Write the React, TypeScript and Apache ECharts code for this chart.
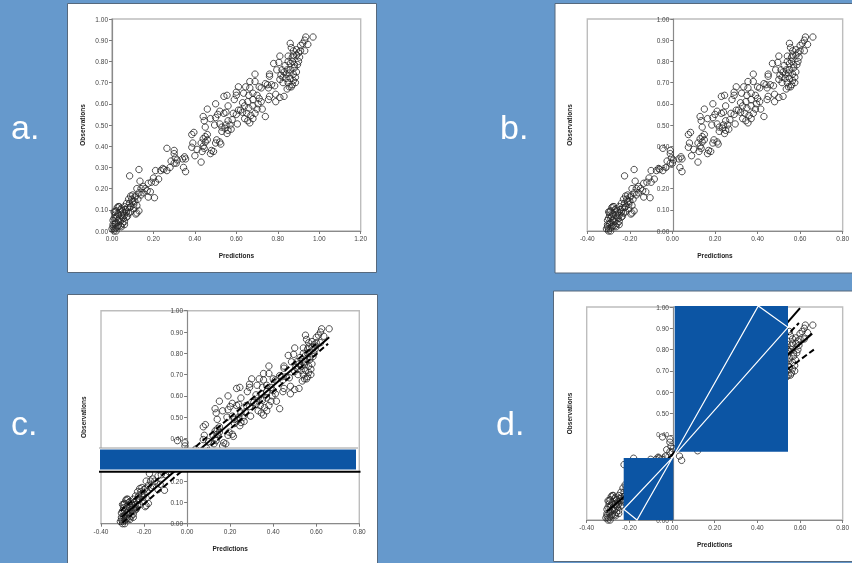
import React, { useEffect, useRef } from "react";
import * as echarts from "echarts";

// Predictions before centring (panel a)
const predictionsRaw = [
  0.97, 0.935, 0.93, 0.945, 0.93, 0.92, 0.91, 0.86, 0.865, 0.875, 0.89, 0.9, 0.905, 0.89, 0.875, 0.85, 0.81, 0.805, 0.78, 0.795,
  0.82, 0.835, 0.85, 0.86, 0.87, 0.88, 0.9, 0.89, 0.875, 0.86, 0.845, 0.83, 0.815, 0.81, 0.825, 0.84, 0.85, 0.86, 0.875, 0.885,
  0.845, 0.855, 0.865, 0.83, 0.81, 0.79, 0.79, 0.76, 0.76, 0.75, 0.77, 0.785, 0.74, 0.755, 0.76, 0.755,
  0.69, 0.665, 0.69, 0.71, 0.72, 0.61, 0.645, 0.665, 0.6, 0.66, 0.68, 0.7, 0.71, 0.59, 0.6, 0.635, 0.555, 0.54, 0.56, 0.63,
  0.655, 0.68, 0.705, 0.72, 0.725, 0.74, 0.62, 0.64, 0.66, 0.68, 0.7, 0.61, 0.63, 0.65, 0.67, 0.69, 0.585, 0.6, 0.58, 0.64,
  0.655, 0.665, 0.68, 0.605, 0.55,
  0.5, 0.46, 0.52, 0.54, 0.51, 0.44, 0.475, 0.5, 0.445, 0.45, 0.495, 0.52, 0.53, 0.55, 0.56, 0.57, 0.575, 0.53, 0.555, 0.56,
  0.545, 0.385, 0.395, 0.39, 0.385, 0.46, 0.45, 0.44, 0.46, 0.43, 0.505, 0.5, 0.52, 0.525, 0.49, 0.48, 0.475, 0.45, 0.44, 0.41,
  0.4, 0.435, 0.43, 0.445,
  0.265, 0.3, 0.3, 0.305, 0.35, 0.34, 0.355, 0.315, 0.285, 0.3, 0.31, 0.28, 0.265, 0.345, 0.355, 0.21, 0.235, 0.245, 0.25, 0.13, 0.085,
  0.2, 0.21, 0.225, 0.19, 0.175, 0.135, 0.15, 0.14, 0.12, 0.16, 0.17, 0.185, 0.15, 0.175, 0.205, 0.13, 0.115, 0.1, 0.09, 0.11,
  0.095, 0.08, 0.1, 0.085, 0.07, 0.105, 0.09, 0.13, 0.12, 0.115, 0.075, 0.06, 0.035, 0.025, 0.04, 0.02, 0.01, 0.05, 0.07, 0.08,
  0.03, 0.015, 0.045, 0.06, 0.07, 0.055, 0.02, 0.005, 0.03, 0.04, 0.06, 0.05, 0.015, 0.005, 0.03, 0.04, 0.02, 0.01, 0.0, 0.02,
  0.01, 0.005, 0.025,
  0.03, 0.045, 0.055, 0.015, 0.025, 0.035, 0.05, 0.065, 0.085, 0.09, 0.075, 0.01, 0.02, 0.045, 0.06, 0.11, 0.125, 0.14, 0.105, 0.12,
  0.87, 0.88, 0.855, 0.87, 0.885, 0.84, 0.825, 0.895, 0.91,
];

const predictionsCentred = [
  0.66, 0.625, 0.62, 0.635, 0.62, 0.61, 0.6, 0.55, 0.555, 0.565, 0.58, 0.59, 0.595, 0.58, 0.565, 0.54, 0.5, 0.495, 0.47, 0.485,
  0.51, 0.525, 0.54, 0.55, 0.56, 0.57, 0.59, 0.58, 0.565, 0.55, 0.535, 0.52, 0.505, 0.5, 0.515, 0.53, 0.54, 0.55, 0.565, 0.575,
  0.535, 0.545, 0.555, 0.52, 0.5, 0.48, 0.48, 0.45, 0.45, 0.44, 0.46, 0.475, 0.43, 0.445, 0.45, 0.445,
  0.38, 0.355, 0.38, 0.4, 0.41, 0.3, 0.335, 0.355, 0.29, 0.35, 0.37, 0.39, 0.4, 0.28, 0.29, 0.325, 0.245, 0.23, 0.25, 0.32,
  0.345, 0.37, 0.395, 0.41, 0.415, 0.43, 0.31, 0.33, 0.35, 0.37, 0.39, 0.3, 0.32, 0.34, 0.36, 0.38, 0.275, 0.29, 0.27, 0.33,
  0.345, 0.355, 0.37, 0.295, 0.24,
  0.19, 0.15, 0.21, 0.23, 0.2, 0.13, 0.165, 0.19, 0.135, 0.14, 0.185, 0.21, 0.22, 0.24, 0.25, 0.26, 0.265, 0.22, 0.245, 0.25,
  0.235, 0.075, 0.085, 0.08, 0.075, 0.15, 0.14, 0.13, 0.15, 0.12, 0.195, 0.19, 0.21, 0.215, 0.18, 0.17, 0.165, 0.14, 0.13, 0.1,
  0.09, 0.125, 0.12, 0.135,
  -0.045, -0.01, -0.01, -0.005, 0.04, 0.03, 0.045, 0.005, -0.025, -0.01, 0.0, -0.03, -0.045, 0.035, 0.045, -0.1, -0.075, -0.065, -0.06, -0.18, -0.225,
  -0.11, -0.1, -0.085, -0.12, -0.135, -0.175, -0.16, -0.17, -0.19, -0.15, -0.14, -0.125, -0.16, -0.135, -0.105, -0.18, -0.195, -0.21, -0.22, -0.2,
  -0.215, -0.23, -0.21, -0.225, -0.24, -0.205, -0.22, -0.18, -0.19, -0.195, -0.235, -0.25, -0.275, -0.285, -0.27, -0.29, -0.3, -0.26, -0.24, -0.23,
  -0.28, -0.295, -0.265, -0.25, -0.24, -0.255, -0.29, -0.305, -0.28, -0.27, -0.25, -0.26, -0.295, -0.305, -0.28, -0.27, -0.29, -0.3, -0.31, -0.29,
  -0.3, -0.305, -0.285,
  -0.28, -0.265, -0.255, -0.295, -0.285, -0.275, -0.26, -0.245, -0.225, -0.22, -0.235, -0.3, -0.29, -0.265, -0.25, -0.2, -0.185, -0.17, -0.205, -0.19,
  0.56, 0.57, 0.545, 0.56, 0.575, 0.53, 0.515, 0.585, 0.6,
];

const observations = [
  0.915, 0.915, 0.9, 0.88, 0.85, 0.885, 0.875, 0.885, 0.865, 0.85, 0.855, 0.84, 0.82, 0.83, 0.83, 0.825, 0.825, 0.795, 0.79, 0.76,
  0.76, 0.78, 0.8, 0.79, 0.8, 0.785, 0.8, 0.75, 0.74, 0.76, 0.76, 0.75, 0.735, 0.715, 0.7, 0.72, 0.7, 0.72, 0.71, 0.725,
  0.67, 0.68, 0.68, 0.635, 0.63, 0.61, 0.645, 0.73, 0.74, 0.69, 0.69, 0.685, 0.695, 0.675, 0.635, 0.62,
  0.74, 0.705, 0.705, 0.68, 0.675, 0.68, 0.68, 0.675, 0.655, 0.64, 0.65, 0.64, 0.625, 0.62, 0.64, 0.65, 0.64, 0.635, 0.59, 0.605,
  0.61, 0.62, 0.6, 0.61, 0.575, 0.54, 0.57, 0.59, 0.58, 0.59, 0.575, 0.57, 0.56, 0.555, 0.545, 0.555, 0.555, 0.55, 0.525, 0.53,
  0.52, 0.51, 0.53, 0.505, 0.56,
  0.6, 0.575, 0.565, 0.555, 0.55, 0.54, 0.53, 0.535, 0.52, 0.49, 0.5, 0.505, 0.49, 0.5, 0.52, 0.5, 0.48, 0.47, 0.46, 0.475,
  0.485, 0.455, 0.465, 0.415, 0.395, 0.455, 0.445, 0.435, 0.43, 0.415, 0.43, 0.415, 0.42, 0.41, 0.375, 0.38, 0.365, 0.42, 0.4, 0.385,
  0.355, 0.375, 0.325, 0.39,
  0.39, 0.38, 0.365, 0.345, 0.35, 0.34, 0.34, 0.335, 0.33, 0.32, 0.32, 0.3, 0.285, 0.3, 0.28, 0.285, 0.285, 0.295, 0.29, 0.29, 0.26,
  0.25, 0.23, 0.245, 0.23, 0.225, 0.235, 0.21, 0.2, 0.2, 0.2, 0.19, 0.185, 0.18, 0.16, 0.157, 0.18, 0.165, 0.17, 0.165, 0.16,
  0.15, 0.15, 0.14, 0.13, 0.13, 0.125, 0.115, 0.095, 0.085, 0.08, 0.11, 0.115, 0.115, 0.11, 0.1, 0.095, 0.09, 0.095, 0.09, 0.085,
  0.08, 0.075, 0.075, 0.075, 0.065, 0.06, 0.06, 0.05, 0.05, 0.045, 0.045, 0.035, 0.035, 0.03, 0.025, 0.025, 0.015, 0.01, 0.01, 0.0,
  0.0, 0.02, 0.02,
  0.115, 0.105, 0.085, 0.09, 0.07, 0.06, 0.065, 0.1, 0.11, 0.09, 0.07, 0.06, 0.04, 0.02, 0.03, 0.14, 0.15, 0.17, 0.105, 0.12,
  0.82, 0.77, 0.745, 0.69, 0.7, 0.74, 0.725, 0.785, 0.85,
];

const xLabel = "Predictions";
const yLabel = "Observations";

// Fitted line and bands
const fitC: number[][] = [[-0.305, 0.03], [0.66, 0.875]];
const upperC: number[][] = [[-0.31, 0.06], [0.6, 0.845]];
const lowerC: number[][] = [[-0.3, 0.005], [0.655, 0.845]];
const fitD: number[][] = [[-0.305, 0.04], [0.657, 0.875]];
const outerUpperD: number[][] = [[0.0, 0.305], [0.6, 0.995]];
const innerUpperD: number[][] = [[0.0, 0.305], [0.595, 0.925]];
const lowerD: number[][] = [[0.0, 0.305], [0.665, 0.8]];

const pairs = (xs: number[]) => xs.map((x, i) => [x, observations[i]]);

const BLUE = "#0c55a4";
const FONT = "'Liberation Sans', Arial, sans-serif";

const panels = [
  { left: 112, top: 19, width: 248.7, height: 212, xMin: 0, xMax: 1.2, gap: 26, shift: 0 },
  { left: 587.3, top: 19, width: 258, height: 212, xMin: -0.4, xMax: 0.8, gap: 100, shift: -86 },
  { left: 101, top: 310.7, width: 258.3, height: 213, xMin: -0.4, xMax: 0.8, gap: 100, shift: -86.1 },
  { left: 586.7, top: 307, width: 258.6, height: 213, xMin: -0.4, xMax: 0.8, gap: 100, shift: -86.2 },
];

const fmt = (v: number) => (Math.abs(v) < 1e-9 ? "0.00" : v.toFixed(2));

const sheet = (x: number, y: number, width: number, height: number) => ({
  type: "rect",
  z: -1,
  shape: { x, y, width, height },
  style: { fill: "#ffffff", stroke: "#56697d", lineWidth: 1 },
});
const letter = (text: string, x: number, y: number) => ({
  type: "text",
  x,
  y,
  z: 5,
  style: { text, fill: "#ffffff", font: `34px ${FONT}`, textVerticalAlign: "bottom" },
});
const block = (x: number, y: number, width: number, height: number, fill = BLUE) => ({
  type: "rect",
  z: 100,
  shape: { x, y, width, height },
  style: { fill },
});
const whiteOutline = (points: number[][]) => ({
  type: "polygon",
  z: 101,
  shape: { points },
  style: { fill: "none", stroke: "#ffffff", lineWidth: 1.2 },
});
const rule = (x1: number, y1: number, x2: number, y2: number, stroke: string, lineWidth: number) => ({
  type: "line",
  z: 101,
  shape: { x1, y1, x2, y2 },
  style: { stroke, lineWidth },
});

const pointsSeries = (i: number, data: number[][]) => ({
  type: "scatter",
  xAxisIndex: i,
  yAxisIndex: i,
  data,
  symbol: "circle",
  symbolSize: 6.4,
  itemStyle: { color: "rgba(255,255,255,0)", borderColor: "#262626", borderWidth: 1 },
  z: 2,
});
const lineSeries = (i: number, data: number[][], dashed: boolean) => ({
  type: "line",
  xAxisIndex: i,
  yAxisIndex: i,
  data,
  symbol: "none",
  lineStyle: { color: "#000000", width: 2, type: dashed ? [6, 3] : "solid" },
  z: 3,
});

export default function App() {
  const ref = useRef<HTMLDivElement>(null);
  useEffect(() => {
    if (!ref.current) return;
    const chart = echarts.init(ref.current, undefined, { renderer: "svg" });
    const axisCommon = {
      type: "value",
      interval: 0.2,
      splitLine: { show: false },
      axisTick: { show: true, length: 3, inside: false, lineStyle: { color: "#7a7a7a", width: 1 } },
      axisLine: { show: true, onZero: false, lineStyle: { color: "#8a8a8a", width: 1.2 } },
      axisLabel: { color: "#444444", fontSize: 6.5, fontFamily: FONT, margin: 4, formatter: fmt, hideOverlap: false, showMinLabel: true, showMaxLabel: true },
      nameLocation: "middle",
      nameTextStyle: { color: "#222222", fontSize: 6.5, fontWeight: "bold", fontFamily: FONT },
    };
    chart.setOption({
      animation: false,
      backgroundColor: "#6699cc",
      grid: panels.map((p) => ({
        left: p.left,
        top: p.top,
        width: p.width,
        height: p.height,
        show: true,
        backgroundColor: "rgba(0,0,0,0)",
        borderColor: "#bdbdbd",
        borderWidth: 1.4,
        containLabel: false,
      })),
      xAxis: panels.map((p, i) => ({
        ...axisCommon,
        gridIndex: i,
        min: p.xMin,
        max: p.xMax,
        name: xLabel,
        nameGap: 21,
      })),
      yAxis: panels.map((p, i) => ({
        ...axisCommon,
        interval: 0.1,
        gridIndex: i,
        min: 0,
        max: 1,
        position: "left",
        offset: p.shift,
        name: yLabel,
        nameGap: p.gap,
      })),
      series: [
        pointsSeries(0, pairs(predictionsRaw)),
        pointsSeries(1, pairs(predictionsCentred)),
        pointsSeries(2, pairs(predictionsCentred)),
        lineSeries(2, fitC, false),
        lineSeries(2, upperC, true),
        lineSeries(2, lowerC, true),
        pointsSeries(3, pairs(predictionsCentred)),
        lineSeries(3, fitD, false),
        lineSeries(3, outerUpperD, false),
        lineSeries(3, innerUpperD, true),
        lineSeries(3, lowerD, true),
      ],
      graphic: {
        elements: [
          sheet(67.5, 3.5, 309, 269),
          sheet(555, 3.5, 298, 269.5),
          sheet(67.5, 294.5, 310, 270),
          sheet(553.5, 291, 299.5, 270.5),
          letter("a.", 11, 144),
          letter("b.", 500, 144),
          letter("c.", 11, 440),
          letter("d.", 496, 440),
          // Panel c: covering band
          block(99, 448, 259, 23, "#ffffff"),
          block(100, 449.5, 256, 20),
          rule(99, 448, 358, 448, "#9a9a9a", 1),
          rule(99, 471.8, 360.5, 471.8, "#000000", 2),
          // Panel d: covering blocks and white wedges
          block(674.7, 306, 113.3, 145.7),
          block(623.7, 458, 49.6, 62),
          whiteOutline([[672.7, 457.3], [758.3, 306], [788, 327.3]]),
          whiteOutline([[672.7, 457.3], [623.7, 509.3], [637, 520]]),
        ],
      },
    });
    return () => chart.dispose();
  }, []);
  return (
    <div
      ref={ref}
      style={{ position: "fixed", left: 0, top: 0, width: 852, height: 563, filter: "blur(0.55px)" }}
    />
  );
}
